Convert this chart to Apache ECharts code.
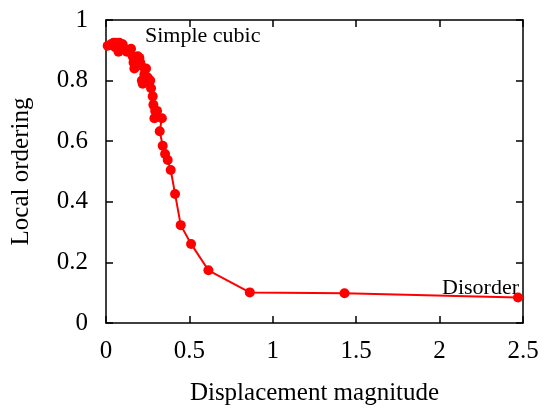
<!DOCTYPE html>
<html>
<head>
<meta charset="utf-8">
<script src="https://cdn.jsdelivr.net/npm/echarts@6/dist/echarts.min.js"></script>
<style>html,body{margin:0;padding:0;background:#fff;}#c{width:546px;height:411px;}</style>
</head>
<body>
<div id="c"></div>
<script>
var xValues = [0.01, 0.03, 0.045, 0.055, 0.06, 0.07, 0.075, 0.08, 0.09, 0.10, 0.11, 0.125, 0.14, 0.15, 0.16, 0.165, 0.17, 0.18, 0.19, 0.20, 0.205, 0.21, 0.215, 0.22, 0.23, 0.24, 0.25, 0.255, 0.265, 0.27, 0.28, 0.284, 0.29, 0.295, 0.306, 0.335, 0.322, 0.34, 0.354, 0.37, 0.388, 0.414, 0.448, 0.51, 0.614, 0.862, 1.43, 2.47];
var yValues = [0.915, 0.92, 0.925, 0.91, 0.925, 0.92, 0.895, 0.925, 0.915, 0.92, 0.905, 0.895, 0.90, 0.905, 0.88, 0.86, 0.84, 0.875, 0.88, 0.875, 0.86, 0.85, 0.80, 0.79, 0.82, 0.84, 0.81, 0.795, 0.80, 0.775, 0.748, 0.72, 0.676, 0.70, 0.70, 0.676, 0.633, 0.585, 0.558, 0.538, 0.505, 0.426, 0.323, 0.261, 0.174, 0.101, 0.098, 0.084];
var xTicks = [0, 0.5, 1, 1.5, 2, 2.5];
var yTicks = [0, 0.2, 0.4, 0.6, 0.8, 1];
var xTitle = 'Displacement magnitude';
var yTitle = 'Local ordering';
var labelOrdered = 'Simple cubic';
var labelDisordered = 'Disorder';

var data = xValues.map(function (x, i) { return [x, yValues[i]]; });
var font = 'Liberation Serif';
var chart = echarts.init(document.getElementById('c'), null, {renderer: 'canvas'});
function axisLine() { return {show: true, onZero: false, lineStyle: {color: '#000', width: 1.5}}; }
function tick() { return {show: true, inside: true, length: 7, lineStyle: {color: '#000', width: 1.5}}; }
chart.setOption({
  animation: false,
  backgroundColor: '#fff',
  textStyle: {fontFamily: font},
  grid: {left: 106, right: 23, top: 20, bottom: 84},
  xAxis: [{
    type: 'value', min: xTicks[0], max: xTicks[xTicks.length - 1], interval: 0.5,
    name: xTitle, nameLocation: 'middle', nameGap: 58,
    nameTextStyle: {fontFamily: font, fontSize: 25, color: '#000'},
    axisLine: axisLine(), axisTick: tick(), splitLine: {show: false},
    axisLabel: {fontFamily: font, fontSize: 25, color: '#000', margin: 16}
  }, {
    type: 'value', position: 'top', min: xTicks[0], max: xTicks[xTicks.length - 1], interval: 0.5,
    axisLine: axisLine(), axisTick: tick(), splitLine: {show: false}, axisLabel: {show: false}
  }],
  yAxis: [{
    type: 'value', min: yTicks[0], max: yTicks[yTicks.length - 1], interval: 0.2,
    name: yTitle, nameLocation: 'middle', nameGap: 72, nameRotate: 90,
    nameTextStyle: {fontFamily: font, fontSize: 25, color: '#000'},
    axisLine: axisLine(), axisTick: tick(), splitLine: {show: false},
    axisLabel: {fontFamily: font, fontSize: 25, color: '#000', margin: 18,
      formatter: function (v) { return String(Math.round(v * 10) / 10); }}
  }, {
    type: 'value', position: 'right', min: yTicks[0], max: yTicks[yTicks.length - 1], interval: 0.2,
    axisLine: axisLine(), axisTick: tick(), splitLine: {show: false}, axisLabel: {show: false}
  }],
  graphic: [
    {type: 'text', left: 145, top: 25, style: {text: labelOrdered, fontFamily: font, fontSize: 22, fill: '#000'}},
    {type: 'text', right: 27, top: 277, style: {text: labelDisordered, fontFamily: font, fontSize: 22, fill: '#000'}}
  ],
  series: [{
    type: 'line', data: data, xAxisIndex: 0, yAxisIndex: 0,
    symbol: 'circle', symbolSize: 10, showAllSymbol: true,
    lineStyle: {color: '#ff0000', width: 2},
    itemStyle: {color: '#ff0000'},
    clip: false, z: 5
  }]
});
</script>
</body>
</html>
